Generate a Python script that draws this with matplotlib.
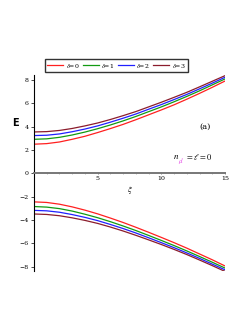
import matplotlib
matplotlib.use('Agg')
import matplotlib.pyplot as plt
import numpy as np

plt.rcParams['mathtext.fontset'] = 'stix'

xi = [0, 1, 2, 3, 4, 5, 6, 7, 8, 9, 10, 11, 12, 13, 14, 15]

# upper branch, one list per delta
E_up_d0 = [2.50, 2.55, 2.69, 2.92, 3.18, 3.50, 3.84, 4.20, 4.60, 5.02, 5.44, 5.88, 6.36, 6.86, 7.38, 7.92]
E_up_d1 = [2.92, 2.96, 3.09, 3.29, 3.54, 3.83, 4.15, 4.50, 4.88, 5.29, 5.70, 6.14, 6.60, 7.08, 7.59, 8.10]
E_up_d2 = [3.24, 3.27, 3.38, 3.57, 3.80, 4.07, 4.39, 4.73, 5.09, 5.50, 5.90, 6.33, 6.77, 7.25, 7.74, 8.24]
E_up_d3 = [3.55, 3.58, 3.68, 3.85, 4.07, 4.32, 4.62, 4.95, 5.30, 5.70, 6.10, 6.52, 6.95, 7.42, 7.90, 8.38]

# lower branch
E_lo_d0 = [-2.45, -2.50, -2.65, -2.88, -3.16, -3.48, -3.84, -4.22, -4.63, -5.06, -5.50, -5.95, -6.42, -6.92, -7.42, -7.95]
E_lo_d1 = [-2.85, -2.90, -3.03, -3.24, -3.51, -3.81, -4.15, -4.52, -4.91, -5.33, -5.76, -6.20, -6.66, -7.14, -7.63, -8.13]
E_lo_d2 = [-3.18, -3.22, -3.34, -3.54, -3.78, -4.06, -4.39, -4.74, -5.12, -5.53, -5.95, -6.38, -6.83, -7.30, -7.79, -8.28]
E_lo_d3 = [-3.49, -3.53, -3.64, -3.82, -4.04, -4.30, -4.61, -4.95, -5.32, -5.71, -6.11, -6.53, -6.97, -7.44, -7.92, -8.42]

labels = [r'$\delta$=0', r'$\delta$=1', r'$\delta$=2', r'$\delta$=3']
colors = ['#ff2020', '#129a12', '#2020ff', '#8b1c2c']

fig = plt.figure(figsize=(2.49, 3.23), dpi=100)
ax = fig.add_axes([0.1365, 0.1604, 0.767, 0.606])

ups = [E_up_d0, E_up_d1, E_up_d2, E_up_d3]
los = [E_lo_d0, E_lo_d1, E_lo_d2, E_lo_d3]
for up, lo, c, lab in zip(ups, los, colors, labels):
    ax.plot(xi, up, color=c, lw=0.9, label=lab)
    ax.plot(xi, lo, color=c, lw=0.9)

ax.set_xlim(0, 15)
ax.set_ylim(-8.4, 8.4)

ax.spines['top'].set_visible(False)
ax.spines['right'].set_visible(False)
ax.spines['left'].set_linewidth(0.8)
ax.spines['bottom'].set_position(('data', 0))
ax.spines['bottom'].set_color('#777777')
ax.spines['bottom'].set_linewidth(1.4)

ax.set_yticks([-8, -6, -4, -2, 0, 2, 4, 6, 8])
ax.set_xticks([5, 10, 15])
ax.set_xticks(np.arange(1, 15), minor=True)
ax.tick_params(axis='y', labelsize=4.5, length=2, width=0.5, pad=2)
ax.tick_params(axis='x', which='major', labelsize=4.5, length=2, width=0.5, pad=1,
               direction='inout', colors='#555555', labelcolor='black')
ax.tick_params(axis='x', which='minor', length=1.5, width=0.4, direction='inout', colors='#888888')
for lab in ax.get_yticklabels():
    lab.set_family('serif')
for lab in ax.get_xticklabels():
    lab.set_family('serif')

ax.text(-1.45, 4.3, 'E', fontsize=7, fontweight='bold', ha='center', va='center')
ax.text(7.5, -1.45, r'$\xi$', fontsize=6, ha='center', va='center')
ax.text(13.4, 3.97, '(a)', fontsize=6, family='serif', ha='center', va='center')

ax.text(11.15, 1.42, r'$n$', fontsize=6.5, ha='center', va='center')
ax.text(11.55, 1.05, r'$\rho l$', fontsize=4, color='#e020e0', ha='center', va='center')
ax.text(12.95, 1.42, r'$= \ell = 0$', fontsize=6, ha='center', va='center')

leg = fig.legend(loc='center', bbox_to_anchor=(0.467, 0.797), ncol=4,
                 frameon=True, fancybox=False, edgecolor='#333333', framealpha=1,
                 handlelength=2.6, handletextpad=0.4, columnspacing=0.5,
                 borderpad=0.35, prop={'family': 'serif', 'size': 4.5})
leg.get_frame().set_linewidth(1.0)

fig.savefig('out.png', dpi=100)
